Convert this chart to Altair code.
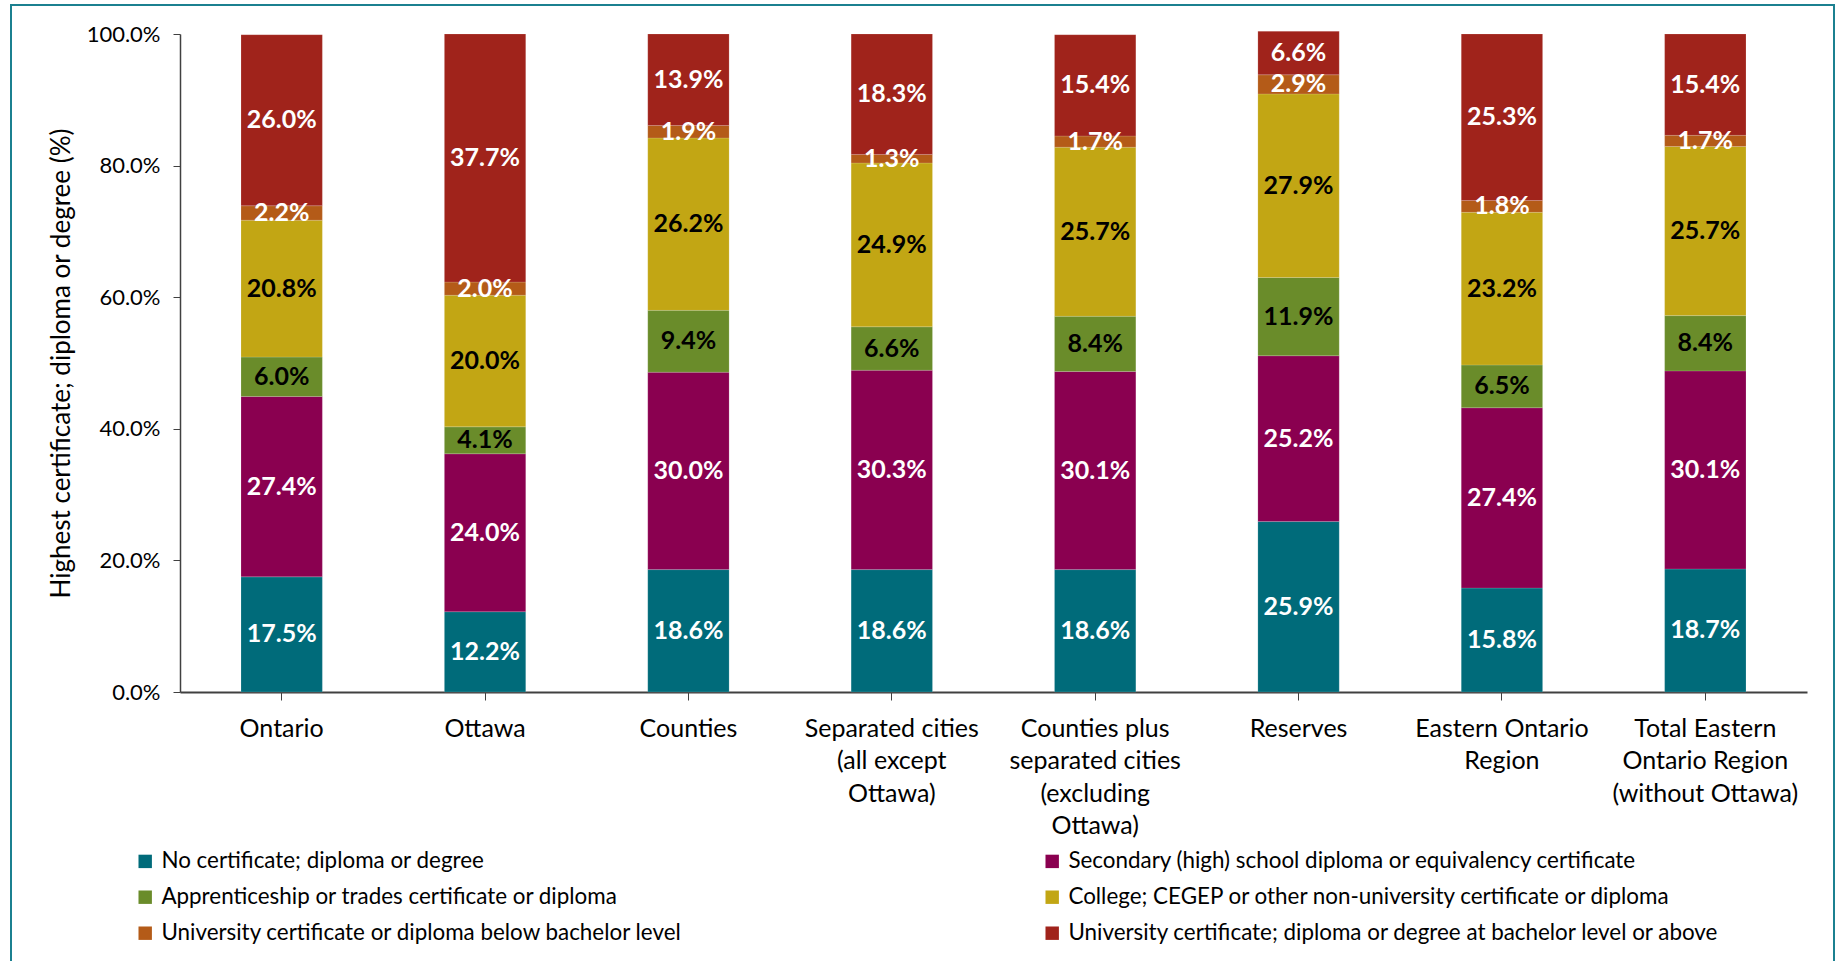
import altair as alt
import pandas as pd

categories = [
    "Ontario", "Ottawa", "Counties", "Separated cities (all except Ottawa)",
    "Counties plus separated cities (excluding Ottawa)", "Reserves",
    "Eastern Ontario Region", "Total Eastern Ontario Region (without Ottawa)",
]
category_lines = [
    ["Ontario"], ["Ottawa"], ["Counties"],
    ["Separated cities", "(all except", "Ottawa)"],
    ["Counties plus", "separated cities", "(excluding", "Ottawa)"],
    ["Reserves"], ["Eastern Ontario", "Region"],
    ["Total Eastern", "Ontario Region", "(without Ottawa)"],
]
series = [
    "No certificate; diploma or degree",
    "Secondary (high) school diploma or equivalency certificate",
    "Apprenticeship or trades certificate or diploma",
    "College; CEGEP or other non-university certificate or diploma",
    "University certificate or diploma below bachelor level",
    "University certificate; diploma or degree at bachelor level or above",
]
colors = ["#006B7A", "#8A0050", "#6A8C2A", "#C2A614", "#B45B18", "#A0231B"]

no_cert = [17.5, 12.2, 18.6, 18.6, 18.6, 25.9, 15.8, 18.7]
secondary = [27.4, 24.0, 30.0, 30.3, 30.1, 25.2, 27.4, 30.1]
apprentice = [6.0, 4.1, 9.4, 6.6, 8.4, 11.9, 6.5, 8.4]
college = [20.8, 20.0, 26.2, 24.9, 25.7, 27.9, 23.2, 25.7]
univ_below = [2.2, 2.0, 1.9, 1.3, 1.7, 2.9, 1.8, 1.7]
univ_bach = [26.0, 37.7, 13.9, 18.3, 15.4, 6.6, 25.3, 15.4]

values = [no_cert, secondary, apprentice, college, univ_below, univ_bach]

rows = []
for ci, cat in enumerate(categories):
    base = 0.0
    for si, s in enumerate(series):
        v = values[si][ci]
        rows.append({
            "category": cat, "series": s, "order": si, "value": v,
            "y0": base, "y1": base + v, "mid": base + v / 2,
            "label": f"{v:.1f}%",
        })
        base += v
df = pd.DataFrame(rows)

FONT = "Lato"

# label expression for multi-line category labels
expr = "''"
for cat, lines in reversed(list(zip(categories, category_lines))):
    arr = "[" + ",".join("'" + l + "'" for l in lines) + "]"
    expr = f"datum.value == '{cat}' ? {arr} : ({expr})"

x_enc = alt.X(
    "category:N", sort=categories,
    scale=alt.Scale(paddingInner=0.6, paddingOuter=0.3),
    axis=alt.Axis(
        title=None, labelAngle=0, labelExpr=expr, labelFontSize=25,
        labelLineHeight=32.5, labelPadding=16, tickSize=8, labelLimit=300,
        domainColor="#404040", tickColor="#404040", domainWidth=2,
        labelColor="black", labelFont=FONT,
    ),
)
y_scale = alt.Scale(domain=[0, 100], nice=False, clamp=False)

bars = alt.Chart(df).mark_bar(stroke="white", strokeWidth=0.3, strokeOpacity=0.5).encode(
    x=x_enc,
    y=alt.Y(
        "y0:Q", scale=y_scale,
        axis=alt.Axis(
            title="Highest certificate; diploma or degree (%)",
            values=[0, 20, 40, 60, 80, 100],
            labelExpr="format(datum.value, '.1f') + '%'",
            labelFontSize=22, titleFontSize=26, titleFontWeight="normal",
            labelPadding=13, titlePadding=12, tickSize=7, grid=False,
            labelFont=FONT, titleFont=FONT,
            domainColor="#404040", tickColor="#404040", domainWidth=1.5,
            labelColor="black", titleColor="black",
        ),
    ),
    y2="y1:Q",
    color=alt.Color(
        "series:N",
        scale=alt.Scale(domain=series, range=colors),
        legend=alt.Legend(
            title=None, orient="none", legendX=-46, legendY=816, columns=2,
            symbolType="square", symbolSize=180, symbolStrokeWidth=0,
            labelFontSize=22.4, labelFont=FONT, labelLimit=800, labelColor="black",
            columnPadding=358, rowPadding=13, labelOffset=5, direction="horizontal",
        ),
    ),
)

labels = alt.Chart(df).mark_text(
    fontSize=25, fontWeight="bold", font=FONT, align="center", baseline="middle"
).encode(
    x=alt.X("category:N", sort=categories),
    y=alt.Y("mid:Q", scale=y_scale),
    text="label:N",
    color=alt.condition(
        alt.FieldOneOfPredicate(field="series", oneOf=[series[2], series[3]]),
        alt.value("black"), alt.value("white"),
    ),
)

frame = alt.Chart(pd.DataFrame({"f": [0]})).mark_rect(
    fill=None, stroke="#1B8090", strokeWidth=2
).encode(
    x=alt.value(-169), x2=alt.value(1654), y=alt.value(-29), y2=alt.value(940),
)

chart = alt.layer(bars, labels, frame).properties(
    width=1627, height=658,
    autosize=alt.AutoSizeParams(type="none"),
    padding={"left": 180, "top": 34, "right": 33, "bottom": 269},
    background="white",
).configure_view(stroke=None)

chart.save("out.html", embed_options={"renderer": "svg", "actions": False})
